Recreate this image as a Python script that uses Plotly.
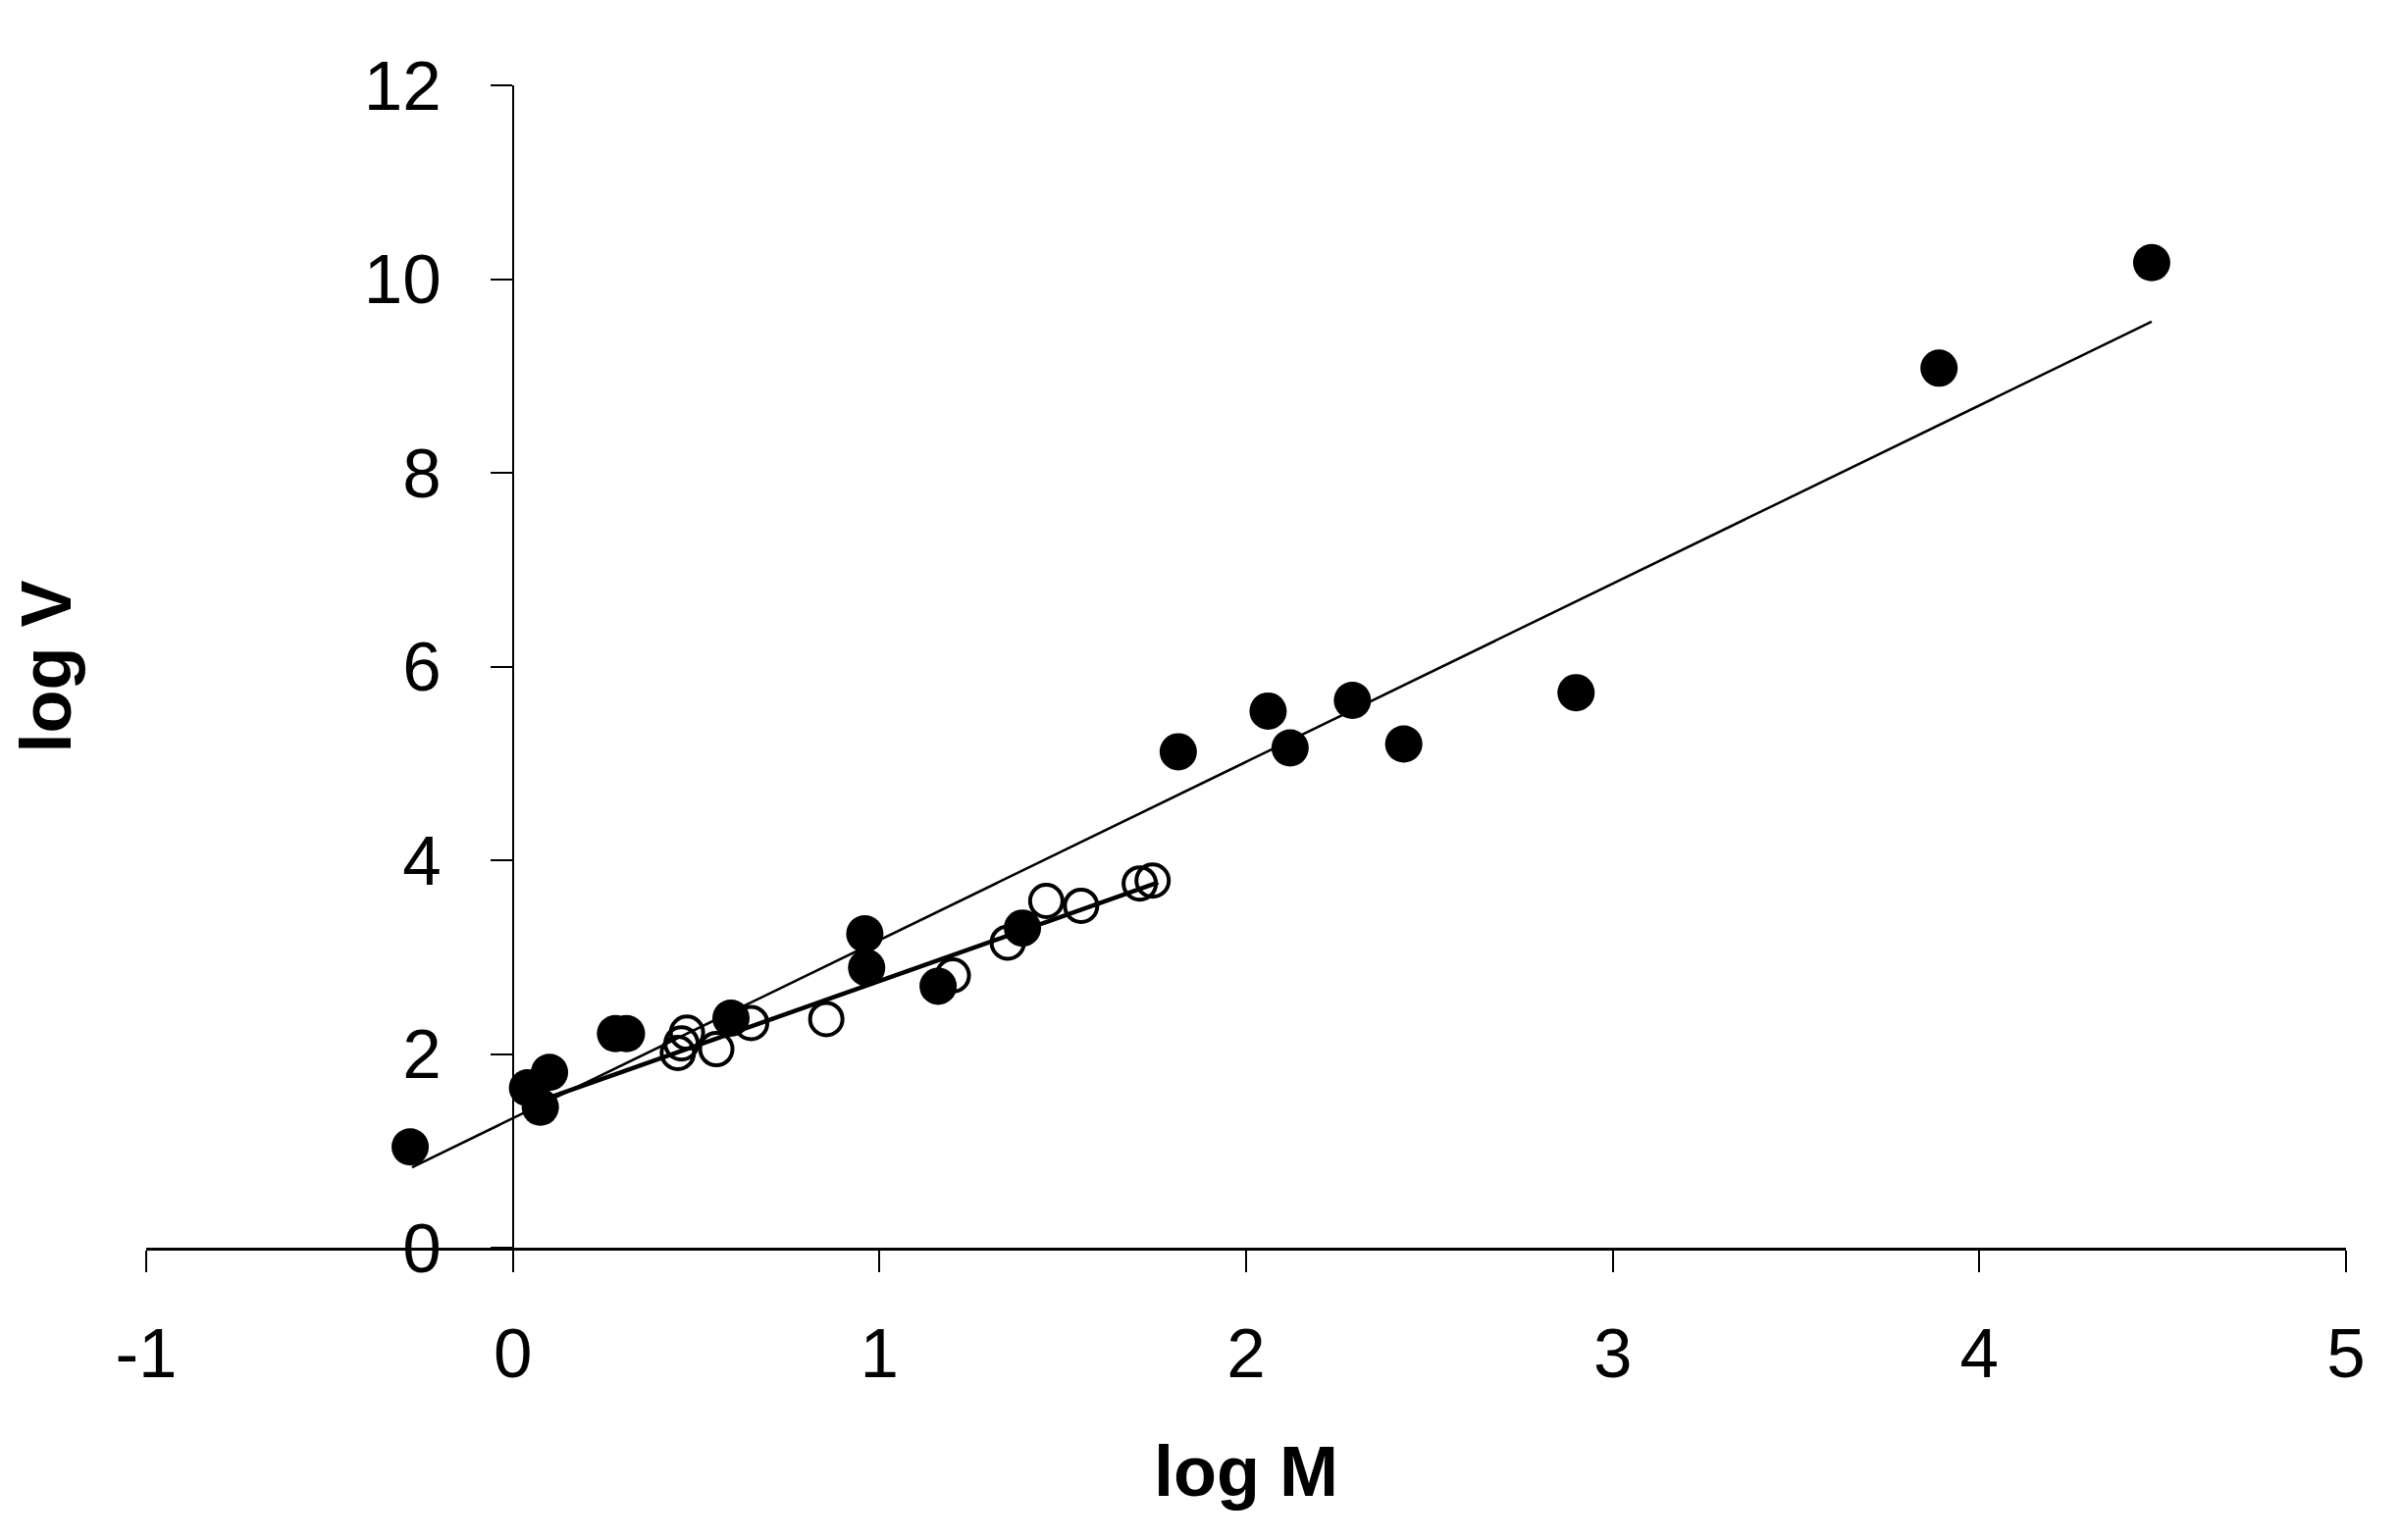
import plotly.graph_objects as go

# Filled circles (all species)
filled_x = [-0.28, 0.04, 0.075, 0.10, 0.28, 0.31, 0.595, 0.96, 0.965, 1.16, 1.39,
            1.815, 2.06, 2.12, 2.29, 2.43, 2.90, 3.89, 4.47]
filled_y = [1.04, 1.65, 1.45, 1.81, 2.21, 2.21, 2.37, 3.24, 2.89, 2.70, 3.30,
            5.12, 5.54, 5.16, 5.65, 5.20, 5.73, 9.08, 10.17]

# Open circles
open_x = [0.45, 0.46, 0.475, 0.555, 0.65, 0.855, 1.20, 1.35, 1.455, 1.55, 1.71, 1.745]
open_y = [2.01, 2.11, 2.22, 2.05, 2.32, 2.36, 2.81, 3.15, 3.58, 3.53, 3.76, 3.79]

# Regression lines (end points)
fit_all_x = [-0.275, 4.47]
fit_all_y = [0.83, 9.56]
fit_open_x = [0.10, 1.76]
fit_open_y = [1.55, 3.77]

x_ticks = [-1, 0, 1, 2, 3, 4, 5]
y_ticks = [0, 2, 4, 6, 8, 10, 12]

FONT = "Liberation Sans, Arial, sans-serif"

fig = go.Figure()
fig.add_trace(go.Scatter(x=open_x, y=open_y, mode="markers",
                         marker=dict(symbol="circle-open", size=33, color="black",
                                     line=dict(width=4, color="black")),
                         cliponaxis=False))
fig.add_trace(go.Scatter(x=filled_x, y=filled_y, mode="markers",
                         marker=dict(symbol="circle", size=38, color="black",
                                     line=dict(width=0)),
                         cliponaxis=False))
fig.add_trace(go.Scatter(x=fit_all_x, y=fit_all_y, mode="lines",
                         line=dict(color="black", width=2.5)))
fig.add_trace(go.Scatter(x=fit_open_x, y=fit_open_y, mode="lines",
                         line=dict(color="black", width=4.5)))

fig.update_layout(
    width=2436, height=1562,
    margin=dict(l=141, r=53, t=79, b=298),
    paper_bgcolor="white", plot_bgcolor="white",
    showlegend=False,
    font=dict(family=FONT, size=71, color="black"),
    xaxis=dict(range=[-1, 5], tickvals=x_ticks, ticktext=[str(v) for v in x_ticks],
               showgrid=False, zeroline=False, showline=True, linewidth=2.5,
               linecolor="black", ticks="outside", ticklen=22, tickwidth=2,
               tickcolor="black", tickfont=dict(family=FONT, size=71),
               ticklabelstandoff=22),
    yaxis=dict(range=[0, 12], tickvals=y_ticks, ticktext=[str(v) for v in y_ticks],
               anchor="free", position=1/6,
               showgrid=False, zeroline=False, showline=True, linewidth=1.5,
               linecolor="black", ticks="outside", ticklen=22, tickwidth=1.5,
               tickcolor="black", tickfont=dict(family=FONT, size=71),
               ticklabelstandoff=36),
    annotations=[
        dict(text="<b>log M</b>", xref="paper", yref="paper", x=0.5, y=-0.192,
             xanchor="center", yanchor="middle", showarrow=False,
             font=dict(family=FONT, size=72, color="black")),
        dict(text="<b>log V</b>", xref="paper", yref="paper", x=-0.0455, y=0.5,
             xanchor="center", yanchor="middle", textangle=-90, showarrow=False,
             font=dict(family=FONT, size=72, color="black")),
    ],
)

fig.write_html("out.html")
